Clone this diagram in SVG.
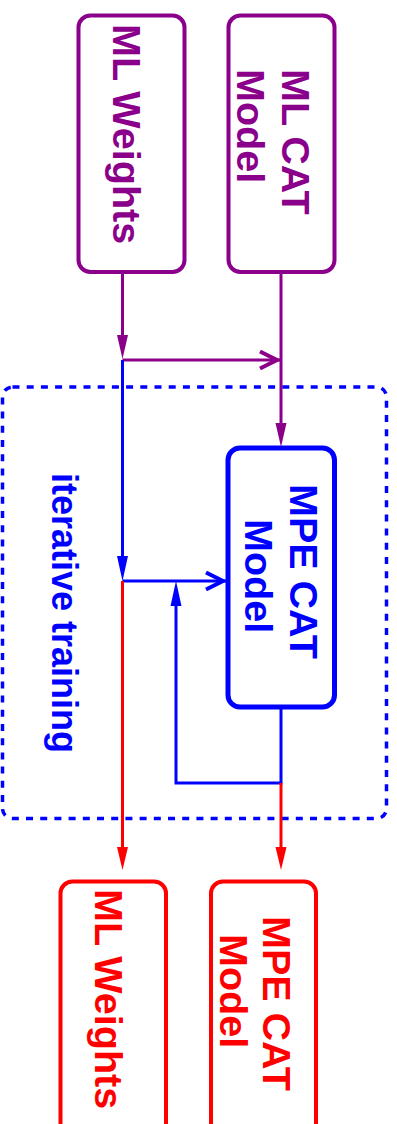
<svg xmlns="http://www.w3.org/2000/svg" width="397" height="1124" viewBox="0 0 397 1124">
<style>
.box{fill:#fff;stroke-width:4}
.purple{stroke:#8b008b}
.blue{stroke:#0000ff}
.red{stroke:#ff0000}
.lbl{font-family:"Liberation Sans",Arial,sans-serif;font-weight:bold;font-size:39.5px}
.tp{fill:#8b008b}.tb{fill:#0000ff}.tr{fill:#ff0000}
.ln{fill:none;stroke-width:3}
.group{fill:none;stroke:#0000ff;stroke-width:3.5;stroke-dasharray:7 7.2}
</style>
<defs>
<marker id="fp" viewBox="-1 -7 27 14" refX="0" refY="0" markerWidth="27" markerHeight="14" markerUnits="userSpaceOnUse" orient="auto" overflow="visible"><path d="M0,-5.5 L24,0 L0,5.5 Z" fill="#8b008b"/></marker>
<marker id="fb" viewBox="-1 -7 27 14" refX="0" refY="0" markerWidth="27" markerHeight="14" markerUnits="userSpaceOnUse" orient="auto" overflow="visible"><path d="M0,-5.5 L25,0 L0,5.5 Z" fill="#0000ff"/></marker>
<marker id="fr" viewBox="-1 -7 27 14" refX="0" refY="0" markerWidth="27" markerHeight="14" markerUnits="userSpaceOnUse" orient="auto" overflow="visible"><path d="M0,-5.5 L23,0 L0,5.5 Z" fill="#ff0000"/></marker>
<marker id="op" viewBox="-25 -12 27 24" refX="0" refY="0" markerWidth="27" markerHeight="24" markerUnits="userSpaceOnUse" orient="auto" overflow="visible"><path d="M-21,-8.5 L-4,0 L-21,8.5" fill="none" stroke="#8b008b" stroke-width="4"/></marker>
<marker id="ob" viewBox="-25 -12 27 24" refX="0" refY="0" markerWidth="27" markerHeight="24" markerUnits="userSpaceOnUse" orient="auto" overflow="visible"><path d="M-21,-8.5 L-4,0 L-21,8.5" fill="none" stroke="#0000ff" stroke-width="4"/></marker>
</defs>

<g id="iterative-training">
<rect class="group" x="2.5" y="387" width="384" height="431.5" rx="10"/>
<text class="lbl tb" style="font-size:36px" transform="translate(52,473) rotate(90)">iterative training</text>
</g>

<g id="connectors">
<path class="ln purple" d="M122.5,273 V335" marker-end="url(#fp)"/>
<path class="ln purple" d="M122.5,360 H281" marker-end="url(#op)"/>
<path class="ln purple" d="M281,273 V423" marker-end="url(#fp)"/>
<path class="ln blue" d="M122.5,360 V556" marker-end="url(#fb)"/>
<path class="ln blue" d="M122.5,581 H227" marker-end="url(#ob)"/>
<path class="ln blue" d="M281,708 V783 H176 V606" marker-end="url(#fb)"/>
<path class="ln red" d="M122.5,581 V847" marker-end="url(#fr)"/>
<path class="ln red" d="M281,783 V847" marker-end="url(#fr)"/>
</g>

<g id="ml-weights-in">
<rect class="box purple" x="78.5" y="15.5" width="106" height="256.5" rx="12"/>
<text class="lbl tp" transform="translate(113,24) rotate(90)">ML Weights</text>
</g>

<g id="ml-cat-model">
<rect class="box purple" x="228.5" y="15.5" width="106" height="256.5" rx="12"/>
<text class="lbl tp" transform="translate(282,69) rotate(90)">ML CAT</text>
<text class="lbl tp" transform="translate(237,69) rotate(90)">Model</text>
</g>

<g id="mpe-cat-model">
<rect class="box blue" style="stroke-width:5" x="228" y="448" width="106.5" height="259" rx="12"/>
<text class="lbl tb" transform="translate(290,484) rotate(90)">MPE CAT</text>
<text class="lbl tb" transform="translate(245,519) rotate(90)">Model</text>
</g>

<g id="ml-weights-out">
<rect class="box red" x="60.5" y="881.5" width="105.5" height="280" rx="12"/>
<text class="lbl tr" transform="translate(95,889) rotate(90)">ML Weights</text>
</g>

<g id="mpe-cat-model-out">
<rect class="box red" x="211" y="881.5" width="105" height="280" rx="12"/>
<text class="lbl tr" transform="translate(263,916) rotate(90)">MPE CAT</text>
<text class="lbl tr" transform="translate(220,934) rotate(90)">Model</text>
</g>
</svg>
